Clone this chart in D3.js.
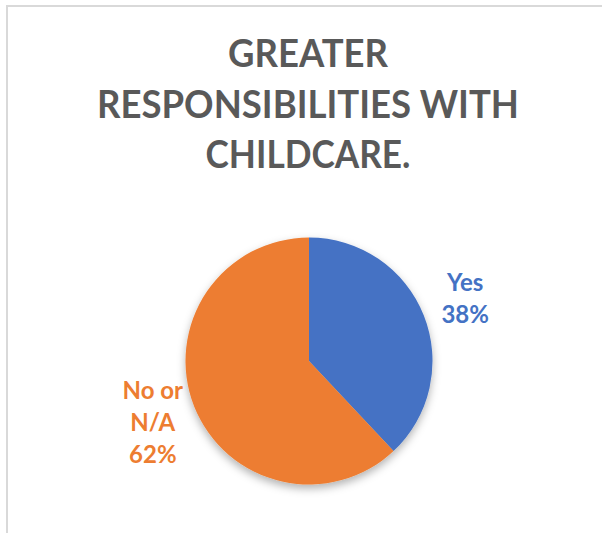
<!DOCTYPE html>
<html>
<head>
<meta charset="utf-8">
<script src="https://cdn.jsdelivr.net/npm/d3@7"></script>
<style>
  body { margin: 0; background: #fff; }
  svg { display: block; }
</style>
</head>
<body>
<svg width="602" height="533"></svg>
<script>
const categories = ['Yes', 'No or N/A']
const values = [38, 62]
const labelLines = [['Yes', '38%'], ['No or', 'N/A', '62%']]
const titleLines = ['GREATER', 'RESPONSIBILITIES WITH', 'CHILDCARE.']
const colours = ['#4472C4', '#ED7D31']

const svg = d3.select('svg'),
width = +svg.attr('width'),
height = +svg.attr('height')

// chart frame (only top and left edges show in the crop)
svg.append('line')
  .attr('x1', 6).attr('x2', width)
  .attr('y1', 6).attr('y2', 6)
  .attr('stroke', '#d9d9d9').attr('stroke-width', 2)
svg.append('line')
  .attr('x1', 7).attr('x2', 7)
  .attr('y1', 5).attr('y2', height)
  .attr('stroke', '#d9d9d9').attr('stroke-width', 2)

// title
const titleWidths = [160, 422, 205]
const titleBase = [67, 118, 168]
svg.append('g')
  .selectAll('text')
  .data(titleLines)
  .enter()
  .append('text')
  .attr('x', 308)
  .attr('y', (d, i) => titleBase[i])
  .attr('text-anchor', 'middle')
  .attr('font-family', 'Lato, "Open Sans", sans-serif')
  .attr('font-weight', 700)
  .attr('font-size', 38)
  .attr('fill', '#595959')
  .text(d => d)
  .attr('textLength', (d, i) => titleWidths[i])
  .attr('lengthAdjust', 'spacingAndGlyphs')

// pie
const cx = 309, cy = 361, r = 123.5

const defs = svg.append('defs')
const shadow = defs.append('filter')
  .attr('id', 'shadow')
  .attr('x', '-20%').attr('y', '-20%')
  .attr('width', '140%').attr('height', '140%')
shadow.append('feDropShadow')
  .attr('dx', 0).attr('dy', 4)
  .attr('stdDeviation', 4)
  .attr('flood-color', '#000')
  .attr('flood-opacity', 0.3)

const pie = d3.pie().sort(null).value(d => d)
const arcs = pie(values)
const arc = d3.arc().innerRadius(0).outerRadius(r)
const labelArc = d3.arc().innerRadius(168).outerRadius(168)

const g = svg.append('g')
  .attr('transform', `translate(${cx},${cy})`)

g.append('g')
  .attr('filter', 'url(#shadow)')
  .selectAll('path')
  .data(arcs)
  .enter()
  .append('path')
  .attr('d', arc)
  .attr('fill', (d, i) => colours[i])

// data labels
const lineH = 32
const label = g.selectAll('.label')
  .data(arcs)
  .enter()
  .append('text')
  .attr('class', 'label')
  .attr('text-anchor', 'middle')
  .attr('font-family', 'Lato, "Open Sans", sans-serif')
  .attr('font-weight', 700)
  .attr('font-size', 24)
  .attr('fill', (d, i) => colours[i])
  .attr('transform', d => {
    const [x, y] = labelArc.centroid(d)
    return `translate(${x},${y})`
  })

label.selectAll('tspan')
  .data((d, i) => labelLines[i].map((t, j, a) => ({ t, j, n: a.length })))
  .enter()
  .append('tspan')
  .attr('x', 0)
  .attr('y', d => (d.j - (d.n - 1) / 2) * lineH + 8)
  .text(d => d.t)
</script>
</body>
</html>
